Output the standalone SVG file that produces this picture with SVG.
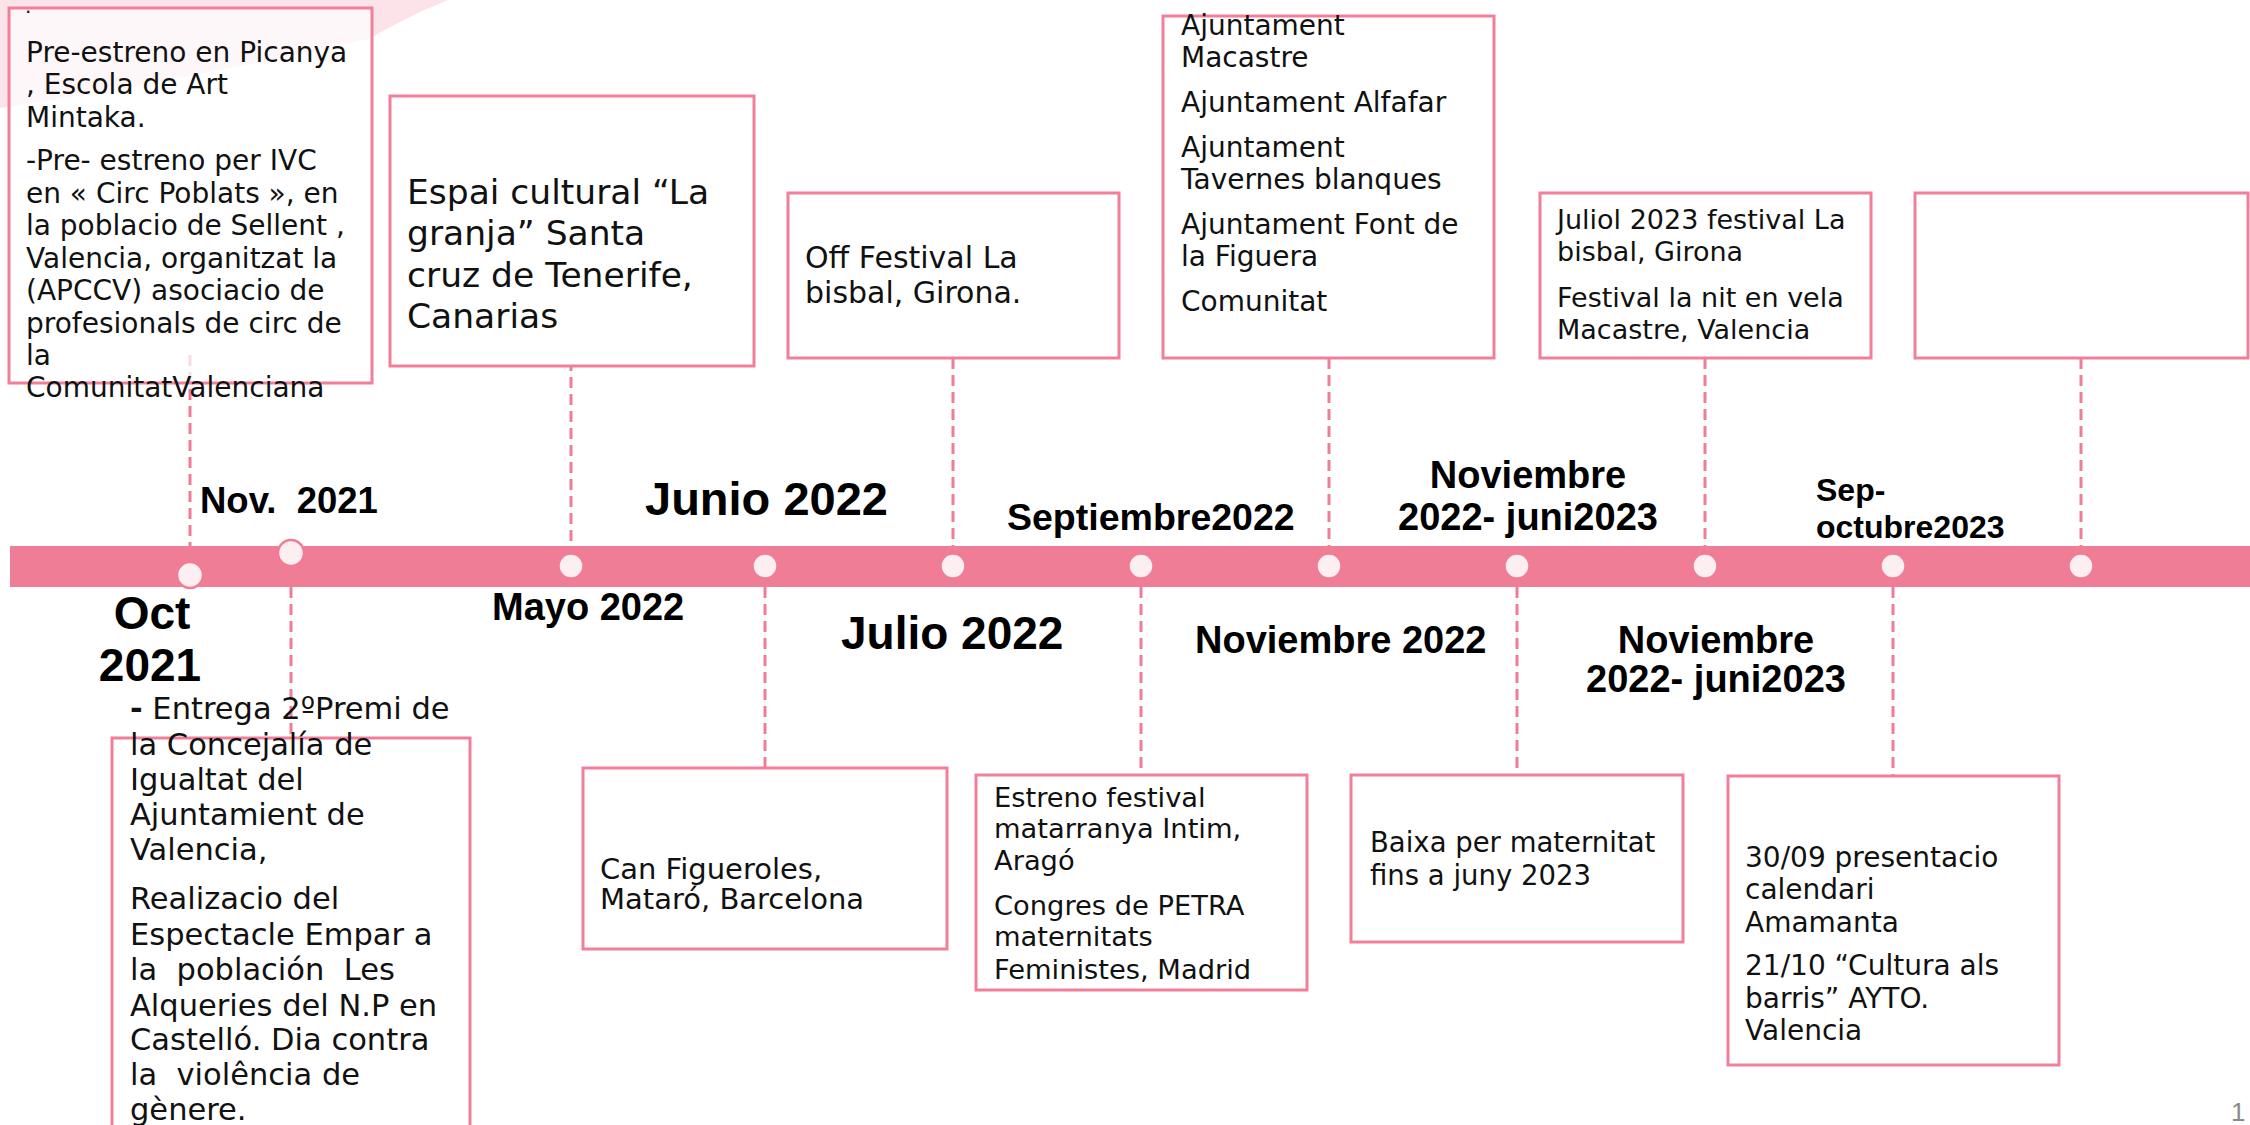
<svg xmlns="http://www.w3.org/2000/svg" width="2250" height="1125" viewBox="0 0 2250 1125">
<style>
.box{fill:#ffffff;stroke:#F17F99;stroke-width:3}
.t{font-family:"DejaVu Sans",sans-serif;fill:#111111}
.d{font-family:"Liberation Sans",Arial,sans-serif;font-weight:bold;fill:#000000}
.con{stroke:#F07D96;stroke-width:3;stroke-dasharray:11 6;fill:none}
.dot{fill:#FDEEF2;stroke:#F07D96;stroke-width:2.5}
</style>
<rect x="0" y="0" width="2250" height="1125" fill="#ffffff"/>
<path d="M0,0 H448 C438,4 430,8 422,11 L408,18 C398,23 388,28 376,35 L368,39 C300,55 200,74 120,89 L60,99 L0,108 Z" fill="#FCE3EA"/>

<g id="connectors">
<line class="con" x1="190" y1="355" x2="190" y2="546"/>
<line class="con" x1="571" y1="343" x2="571" y2="546"/>
<line class="con" x1="953" y1="358" x2="953" y2="546"/>
<line class="con" x1="1329" y1="358" x2="1329" y2="546"/>
<line class="con" x1="1705" y1="358" x2="1705" y2="546"/>
<line class="con" x1="2081" y1="358" x2="2081" y2="546"/>
<line class="con" x1="291" y1="587" x2="291" y2="768"/>
<line class="con" x1="765" y1="587" x2="765" y2="784"/>
<line class="con" x1="1141" y1="587" x2="1141" y2="775"/>
<line class="con" x1="1517" y1="587" x2="1517" y2="775"/>
<line class="con" x1="1893" y1="587" x2="1893" y2="775"/>
</g>

<g id="timeline">
<rect x="10" y="546" width="2240" height="41" fill="#F07D96"/>
<circle class="dot" cx="190" cy="575" r="13"/>
<circle class="dot" cx="291" cy="553" r="13"/>
<circle class="dot" cx="571" cy="566" r="12.5"/>
<circle class="dot" cx="765" cy="566" r="12.5"/>
<circle class="dot" cx="953" cy="566" r="12.5"/>
<circle class="dot" cx="1141" cy="566" r="12.5"/>
<circle class="dot" cx="1329" cy="566" r="12.5"/>
<circle class="dot" cx="1517" cy="566" r="12.5"/>
<circle class="dot" cx="1705" cy="566" r="12.5"/>
<circle class="dot" cx="1893" cy="566" r="12.5"/>
<circle class="dot" cx="2081" cy="566" r="12.5"/>
</g>

<g id="node-oct2021">
<rect class="box" x="9" y="8" width="363" height="375" fill-opacity="0.72"/>
<text class="t" font-size="20" x="25" y="19">·</text>
<text class="t" font-size="28" x="26">
<tspan x="26" y="62">Pre-estreno en Picanya</tspan>
<tspan x="26" y="94">, Escola de Art</tspan>
<tspan x="26" y="127">Mintaka.</tspan>
<tspan x="26" y="170">-Pre- estreno per IVC</tspan>
<tspan x="26" y="203">en « Circ Poblats », en</tspan>
<tspan x="26" y="235">la poblacio de Sellent ,</tspan>
<tspan x="26" y="268">Valencia, organitzat la</tspan>
<tspan x="26" y="300">(APCCV) asociacio de</tspan>
<tspan x="26" y="333">profesionals de circ de</tspan>
<tspan x="26" y="365">la</tspan>
<tspan x="26" y="397">ComunitatValenciana</tspan>
</text>
<text class="d" font-size="46" text-anchor="middle"><tspan x="152" y="629">Oct</tspan><tspan x="150" y="681">2021</tspan></text>
</g>

<g id="node-nov2021">
<rect class="box" x="112" y="738" width="358" height="400" fill="none"/>
<text class="t" font-size="30.5" xml:space="preserve" style="white-space:pre">
<tspan x="130" y="719"><tspan font-weight="bold">-</tspan> Entrega 2ºPremi de</tspan>
<tspan x="130" y="755">la Concejalía de</tspan>
<tspan x="130" y="790">Igualtat del</tspan>
<tspan x="130" y="825">Ajuntamient de</tspan>
<tspan x="130" y="860">Valencia,</tspan>
<tspan x="130" y="909">Realizacio del</tspan>
<tspan x="130" y="945">Espectacle Empar a</tspan>
<tspan x="130" y="980">la  población  Les</tspan>
<tspan x="130" y="1016">Alqueries del N.P en</tspan>
<tspan x="130" y="1050">Castelló. Dia contra</tspan>
<tspan x="130" y="1085">la  violência de</tspan>
<tspan x="130" y="1120">gènere.</tspan>
</text>
<text class="d" font-size="36.5" x="200" y="513" xml:space="preserve" style="white-space:pre">Nov.  2021</text>
</g>

<g id="node-mayo2022">
<rect class="box" x="390" y="96" width="364" height="270" fill="none"/>
<text class="t" font-size="34.5">
<tspan x="407" y="204">Espai cultural “La</tspan>
<tspan x="407" y="245">granja” Santa</tspan>
<tspan x="407" y="287">cruz de Tenerife,</tspan>
<tspan x="407" y="328">Canarias</tspan>
</text>
<text class="d" font-size="38" x="492" y="620">Mayo 2022</text>
</g>

<g id="node-junio2022">
<rect class="box" x="583" y="768" width="364" height="181" fill="none"/>
<text class="t" font-size="29">
<tspan x="600" y="879">Can Figueroles,</tspan>
<tspan x="600" y="909">Mataró, Barcelona</tspan>
</text>
<text class="d" font-size="47" x="645" y="515">Junio 2022</text>
</g>

<g id="node-julio2022">
<rect class="box" x="788" y="193" width="331" height="165" fill="none"/>
<text class="t" font-size="30">
<tspan x="805" y="268">Off Festival La</tspan>
<tspan x="805" y="303">bisbal, Girona.</tspan>
</text>
<text class="d" font-size="46" x="841" y="649">Julio 2022</text>
</g>

<g id="node-septiembre2022">
<rect class="box" x="976" y="775" width="331" height="215" fill="none"/>
<text class="t" font-size="27.3">
<tspan x="994" y="807">Estreno festival</tspan>
<tspan x="994" y="838">matarranya Intim,</tspan>
<tspan x="994" y="870">Aragó</tspan>
<tspan x="994" y="915">Congres de PETRA</tspan>
<tspan x="994" y="946">maternitats</tspan>
<tspan x="994" y="979">Feministes, Madrid</tspan>
</text>
<text class="d" font-size="37.5" x="1007" y="530">Septiembre2022</text>
</g>

<g id="node-noviembre2022">
<rect class="box" x="1163" y="16" width="331" height="342" fill="none"/>
<text class="t" font-size="28">
<tspan x="1181" y="35">Ajuntament</tspan>
<tspan x="1181" y="67">Macastre</tspan>
<tspan x="1181" y="112">Ajuntament Alfafar</tspan>
<tspan x="1181" y="157">Ajuntament</tspan>
<tspan x="1181" y="189">Tavernes blanques</tspan>
<tspan x="1181" y="234">Ajuntament Font de</tspan>
<tspan x="1181" y="266">la Figuera</tspan>
<tspan x="1181" y="311">Comunitat</tspan>
</text>
<text class="d" font-size="38" x="1195" y="653">Noviembre 2022</text>
</g>

<g id="node-nov2022-juni2023-a">
<rect class="box" x="1351" y="775" width="332" height="167" fill="none"/>
<text class="t" font-size="27.5">
<tspan x="1370" y="852">Baixa per maternitat</tspan>
<tspan x="1370" y="885">fins a juny 2023</tspan>
</text>
<text class="d" font-size="38" text-anchor="middle"><tspan x="1528" y="488">Noviembre</tspan><tspan x="1528" y="530">2022- juni2023</tspan></text>
</g>

<g id="node-nov2022-juni2023-b">
<rect class="box" x="1540" y="193" width="331" height="165" fill="none"/>
<text class="t" font-size="27">
<tspan x="1557" y="229">Juliol 2023 festival La</tspan>
<tspan x="1557" y="261">bisbal, Girona</tspan>
<tspan x="1557" y="307">Festival la nit en vela</tspan>
<tspan x="1557" y="339">Macastre, Valencia</tspan>
</text>
<text class="d" font-size="38" text-anchor="middle"><tspan x="1716" y="653">Noviembre</tspan><tspan x="1716" y="692">2022- juni2023</tspan></text>
</g>

<g id="node-sep-octubre2023">
<rect class="box" x="1728" y="776" width="331" height="289" fill="none"/>
<text class="t" font-size="28">
<tspan x="1745" y="867">30/09 presentacio</tspan>
<tspan x="1745" y="899">calendari</tspan>
<tspan x="1745" y="932">Amamanta</tspan>
<tspan x="1745" y="975">21/10 “Cultura als</tspan>
<tspan x="1745" y="1008">barris” AYTO.</tspan>
<tspan x="1745" y="1040">Valencia</tspan>
</text>
<text class="d" font-size="32"><tspan x="1816" y="501">Sep-</tspan><tspan x="1816" y="538">octubre2023</tspan></text>
</g>

<g id="node-empty">
<rect class="box" x="1915" y="193" width="333" height="165" fill="none"/>
</g>

<text x="2231" y="1121" font-family="Liberation Sans, Arial, sans-serif" font-size="26" fill="#8a8a8a">1</text>
</svg>
